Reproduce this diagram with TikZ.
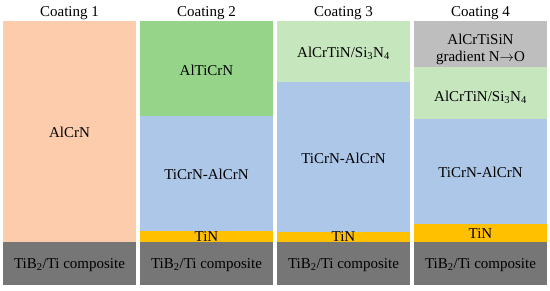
\documentclass[tikz,border=0pt]{standalone}
\usepackage{fontspec}
\setmainfont{Liberation Serif}
\newfontfamily\reffont{Liberation Serif}
\definecolor{peach}{RGB}{252,204,172}
\definecolor{greenA}{RGB}{150,212,138}
\definecolor{greenB}{RGB}{198,231,190}
\definecolor{blueL}{RGB}{173,199,233}
\definecolor{tinY}{RGB}{255,192,0}
\definecolor{subG}{RGB}{118,118,118}
\definecolor{topG}{RGB}{190,190,190}
\begin{document}
\begin{tikzpicture}[x=1pt,y=-1pt,
  lbl/.style={font=\reffont\fontsize{15}{15}\selectfont, inner sep=0pt, text=black, anchor=base},
  layer/.style={fill=#1, draw=none}]
\useasboundingbox (0,0) rectangle (550,290);
\fill[white] (0,0) rectangle (550,290);
% Coating 1
\fill[layer=peach] (3,21) rectangle (136,242);
\fill[layer=subG] (3,242) rectangle (136,285);
% Coating 2
\fill[layer=greenA] (140,21) rectangle (273,116);
\fill[layer=blueL] (140,116) rectangle (273,231);
\fill[layer=tinY] (140,231) rectangle (273,242);
\fill[layer=subG] (140,242) rectangle (273,285);
% Coating 3
\fill[layer=greenB] (277,21) rectangle (410,82);
\fill[layer=blueL] (277,82) rectangle (410,232);
\fill[layer=tinY] (277,232) rectangle (410,242);
\fill[layer=subG] (277,242) rectangle (410,285);
% Coating 4
\fill[layer=topG] (414,21) rectangle (547,67);
\fill[layer=greenB] (414,67) rectangle (547,119);
\fill[layer=blueL] (414,119) rectangle (547,224);
\fill[layer=tinY] (414,224) rectangle (547,242);
\fill[layer=subG] (414,242) rectangle (547,285);
% titles
\node[lbl] (t1) at (69.5,16.5) {Coating 1};
\node[lbl] (t2) at (206.5,16.5) {Coating 2};
\node[lbl] (t3) at (343.5,16.5) {Coating 3};
\node[lbl] (t4) at (480.5,16.5) {Coating 4};
% labels col 1
\node[lbl] (c1a) at (69.5,137.5) {AlCrN};
\node[lbl] (c1s) at (69.5,268.5) {TiB\textsubscript{2}/Ti composite};
% col 2
\node[lbl] (c2a) at (206.5,75) {AlTiCrN};
\node[lbl] (c2b) at (206.5,179) {TiCrN-AlCrN};
\node[lbl] (c2c) at (206.5,241.5) {TiN};
\node[lbl] (c2s) at (206.5,268.5) {TiB\textsubscript{2}/Ti composite};
% col 3
\node[lbl] (c3a) at (343.5,57.5) {AlCrTiN/Si\textsubscript{3}N\textsubscript{4}};
\node[lbl] (c3b) at (343.5,163) {TiCrN-AlCrN};
\node[lbl] (c3c) at (343.5,241.5) {TiN};
\node[lbl] (c3s) at (343.5,268.5) {TiB\textsubscript{2}/Ti composite};
% col 4
\node[lbl] (c4a) at (480.5,44) {AlCrTiSiN};
\node[lbl] (c4g) at (480.5,61) {gradient N$\rightarrow$O};
\node[lbl] (c4b) at (480.5,101.5) {AlCrTiN/Si\textsubscript{3}N\textsubscript{4}};
\node[lbl] (c4c) at (480.5,177) {TiCrN-AlCrN};
\node[lbl] (c4d) at (480.5,238) {TiN};
\node[lbl] (c4s) at (480.5,268.5) {TiB\textsubscript{2}/Ti composite};
\end{tikzpicture}
\end{document}
